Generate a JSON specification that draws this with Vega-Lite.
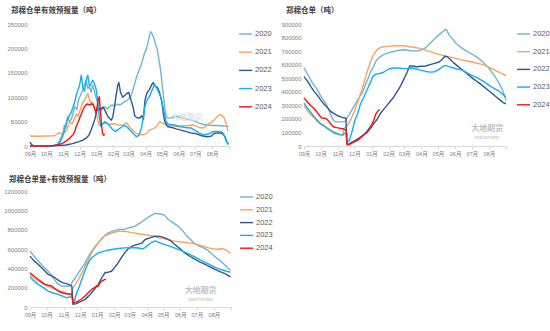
{
"$schema": "https://vega.github.io/schema/vega-lite/v6.json",
"background": "white",
"padding": {"left": 3, "top": 6, "right": 0, "bottom": 0},
"datasets": {
"a": [
{"s":"2020","d":0,"v":0},{"s":"2020","d":20,"v":0},{"s":"2020","d":40,"v":0},{"s":"2020","d":50,"v":3000},{"s":"2020","d":56,"v":15000},{"s":"2020","d":60,"v":25000},{"s":"2020","d":63,"v":42000},{"s":"2020","d":66,"v":38000},{"s":"2020","d":69,"v":60000},{"s":"2020","d":72,"v":50000},{"s":"2020","d":76,"v":55000},{"s":"2020","d":79,"v":68000},{"s":"2020","d":82,"v":80000},{"s":"2020","d":86,"v":75000},{"s":"2020","d":89,"v":95000},{"s":"2020","d":91,"v":100000},{"s":"2020","d":94,"v":108000},{"s":"2020","d":97,"v":115000},{"s":"2020","d":100,"v":125000},{"s":"2020","d":103,"v":135000},{"s":"2020","d":106,"v":118000},{"s":"2020","d":109,"v":121000},{"s":"2020","d":112,"v":110000},{"s":"2020","d":115,"v":125000},{"s":"2020","d":118,"v":112000},{"s":"2020","d":121,"v":100000},{"s":"2020","d":124,"v":88000},{"s":"2020","d":127,"v":74000},{"s":"2020","d":130,"v":72000},{"s":"2020","d":134,"v":78000},{"s":"2020","d":138,"v":80000},{"s":"2020","d":142,"v":76000},{"s":"2020","d":146,"v":80000},{"s":"2020","d":150,"v":84000},{"s":"2020","d":155,"v":82000},{"s":"2020","d":160,"v":86000},{"s":"2020","d":165,"v":84000},{"s":"2020","d":170,"v":88000},{"s":"2020","d":175,"v":92000},{"s":"2020","d":180,"v":95000},{"s":"2020","d":185,"v":102000},{"s":"2020","d":190,"v":120000},{"s":"2020","d":195,"v":140000},{"s":"2020","d":200,"v":155000},{"s":"2020","d":205,"v":170000},{"s":"2020","d":210,"v":190000},{"s":"2020","d":214,"v":200000},{"s":"2020","d":218,"v":220000},{"s":"2020","d":221,"v":234000},{"s":"2020","d":224,"v":230000},{"s":"2020","d":227,"v":222000},{"s":"2020","d":230,"v":210000},{"s":"2020","d":233,"v":200000},{"s":"2020","d":236,"v":180000},{"s":"2020","d":239,"v":160000},{"s":"2020","d":242,"v":130000},{"s":"2020","d":245,"v":101000},{"s":"2020","d":248,"v":70000},{"s":"2020","d":251,"v":58000},{"s":"2020","d":256,"v":57000},{"s":"2020","d":261,"v":58000},{"s":"2020","d":266,"v":61000},{"s":"2020","d":272,"v":60000},{"s":"2020","d":278,"v":57000},{"s":"2020","d":285,"v":56000},{"s":"2020","d":292,"v":54000},{"s":"2020","d":300,"v":52000},{"s":"2020","d":310,"v":47000},{"s":"2020","d":318,"v":44000},{"s":"2020","d":325,"v":43000},{"s":"2020","d":335,"v":42000},{"s":"2020","d":345,"v":42000},{"s":"2020","d":355,"v":41000},{"s":"2020","d":364,"v":40000},
{"s":"2021","d":0,"v":20500},{"s":"2021","d":15,"v":20000},{"s":"2021","d":30,"v":20500},{"s":"2021","d":45,"v":21000},{"s":"2021","d":53,"v":27000},{"s":"2021","d":60,"v":25000},{"s":"2021","d":66,"v":30000},{"s":"2021","d":70,"v":40000},{"s":"2021","d":73,"v":50000},{"s":"2021","d":77,"v":45000},{"s":"2021","d":81,"v":55000},{"s":"2021","d":85,"v":65000},{"s":"2021","d":88,"v":60000},{"s":"2021","d":91,"v":70000},{"s":"2021","d":94,"v":80000},{"s":"2021","d":97,"v":90000},{"s":"2021","d":100,"v":94000},{"s":"2021","d":103,"v":100000},{"s":"2021","d":106,"v":108000},{"s":"2021","d":109,"v":95000},{"s":"2021","d":112,"v":87000},{"s":"2021","d":115,"v":90000},{"s":"2021","d":118,"v":80000},{"s":"2021","d":121,"v":70000},{"s":"2021","d":124,"v":55000},{"s":"2021","d":127,"v":42000},{"s":"2021","d":131,"v":45000},{"s":"2021","d":136,"v":47000},{"s":"2021","d":142,"v":46000},{"s":"2021","d":148,"v":44000},{"s":"2021","d":155,"v":46000},{"s":"2021","d":162,"v":43000},{"s":"2021","d":170,"v":42000},{"s":"2021","d":177,"v":48000},{"s":"2021","d":183,"v":38000},{"s":"2021","d":189,"v":32000},{"s":"2021","d":195,"v":26000},{"s":"2021","d":202,"v":24000},{"s":"2021","d":208,"v":23000},{"s":"2021","d":214,"v":26000},{"s":"2021","d":219,"v":33000},{"s":"2021","d":226,"v":35000},{"s":"2021","d":232,"v":40000},{"s":"2021","d":238,"v":50000},{"s":"2021","d":244,"v":46000},{"s":"2021","d":251,"v":43000},{"s":"2021","d":260,"v":42000},{"s":"2021","d":269,"v":40000},{"s":"2021","d":280,"v":41000},{"s":"2021","d":290,"v":42000},{"s":"2021","d":300,"v":43000},{"s":"2021","d":310,"v":38000},{"s":"2021","d":318,"v":37000},{"s":"2021","d":325,"v":42000},{"s":"2021","d":330,"v":47000},{"s":"2021","d":337,"v":52000},{"s":"2021","d":343,"v":60000},{"s":"2021","d":348,"v":64000},{"s":"2021","d":352,"v":63000},{"s":"2021","d":356,"v":58000},{"s":"2021","d":360,"v":45000},{"s":"2021","d":363,"v":30000},
{"s":"2022","d":0,"v":8000},{"s":"2022","d":3,"v":3000},{"s":"2022","d":8,"v":0},{"s":"2022","d":30,"v":0},{"s":"2022","d":50,"v":1000},{"s":"2022","d":66,"v":2000},{"s":"2022","d":78,"v":5000},{"s":"2022","d":90,"v":9000},{"s":"2022","d":97,"v":12000},{"s":"2022","d":103,"v":16000},{"s":"2022","d":108,"v":22000},{"s":"2022","d":112,"v":33000},{"s":"2022","d":116,"v":45000},{"s":"2022","d":119,"v":55000},{"s":"2022","d":122,"v":70000},{"s":"2022","d":125,"v":78000},{"s":"2022","d":129,"v":75000},{"s":"2022","d":134,"v":80000},{"s":"2022","d":138,"v":72000},{"s":"2022","d":143,"v":60000},{"s":"2022","d":149,"v":53000},{"s":"2022","d":152,"v":60000},{"s":"2022","d":155,"v":80000},{"s":"2022","d":158,"v":105000},{"s":"2022","d":161,"v":125000},{"s":"2022","d":163,"v":130000},{"s":"2022","d":166,"v":110000},{"s":"2022","d":170,"v":100000},{"s":"2022","d":174,"v":104000},{"s":"2022","d":178,"v":108000},{"s":"2022","d":181,"v":110000},{"s":"2022","d":185,"v":95000},{"s":"2022","d":189,"v":80000},{"s":"2022","d":192,"v":62000},{"s":"2022","d":196,"v":58000},{"s":"2022","d":201,"v":57000},{"s":"2022","d":205,"v":62000},{"s":"2022","d":208,"v":55000},{"s":"2022","d":211,"v":95000},{"s":"2022","d":215,"v":110000},{"s":"2022","d":219,"v":115000},{"s":"2022","d":223,"v":125000},{"s":"2022","d":226,"v":130000},{"s":"2022","d":230,"v":122000},{"s":"2022","d":234,"v":120000},{"s":"2022","d":238,"v":108000},{"s":"2022","d":242,"v":90000},{"s":"2022","d":245,"v":62000},{"s":"2022","d":248,"v":48000},{"s":"2022","d":252,"v":40000},{"s":"2022","d":260,"v":38000},{"s":"2022","d":268,"v":35000},{"s":"2022","d":275,"v":33000},{"s":"2022","d":285,"v":30000},{"s":"2022","d":295,"v":27000},{"s":"2022","d":305,"v":25000},{"s":"2022","d":315,"v":21000},{"s":"2022","d":325,"v":19000},{"s":"2022","d":332,"v":20000},{"s":"2022","d":338,"v":26000},{"s":"2022","d":345,"v":27000},{"s":"2022","d":352,"v":26000},{"s":"2022","d":357,"v":20000},{"s":"2022","d":361,"v":8000},{"s":"2022","d":364,"v":4000},
{"s":"2023","d":0,"v":0},{"s":"2023","d":40,"v":0},{"s":"2023","d":50,"v":2000},{"s":"2023","d":55,"v":8000},{"s":"2023","d":60,"v":20000},{"s":"2023","d":63,"v":30000},{"s":"2023","d":66,"v":45000},{"s":"2023","d":69,"v":55000},{"s":"2023","d":72,"v":62000},{"s":"2023","d":76,"v":70000},{"s":"2023","d":79,"v":80000},{"s":"2023","d":82,"v":90000},{"s":"2023","d":85,"v":105000},{"s":"2023","d":88,"v":115000},{"s":"2023","d":91,"v":125000},{"s":"2023","d":94,"v":145000},{"s":"2023","d":97,"v":120000},{"s":"2023","d":100,"v":112000},{"s":"2023","d":103,"v":135000},{"s":"2023","d":106,"v":145000},{"s":"2023","d":109,"v":122000},{"s":"2023","d":112,"v":128000},{"s":"2023","d":115,"v":135000},{"s":"2023","d":118,"v":128000},{"s":"2023","d":121,"v":118000},{"s":"2023","d":124,"v":95000},{"s":"2023","d":127,"v":60000},{"s":"2023","d":130,"v":40000},{"s":"2023","d":133,"v":45000},{"s":"2023","d":137,"v":50000},{"s":"2023","d":142,"v":46000},{"s":"2023","d":147,"v":40000},{"s":"2023","d":152,"v":33000},{"s":"2023","d":157,"v":30000},{"s":"2023","d":162,"v":34000},{"s":"2023","d":167,"v":38000},{"s":"2023","d":172,"v":42000},{"s":"2023","d":177,"v":40000},{"s":"2023","d":183,"v":33000},{"s":"2023","d":189,"v":26000},{"s":"2023","d":195,"v":19000},{"s":"2023","d":200,"v":22000},{"s":"2023","d":205,"v":40000},{"s":"2023","d":208,"v":60000},{"s":"2023","d":211,"v":82000},{"s":"2023","d":215,"v":95000},{"s":"2023","d":219,"v":101000},{"s":"2023","d":223,"v":112000},{"s":"2023","d":228,"v":125000},{"s":"2023","d":232,"v":120000},{"s":"2023","d":236,"v":110000},{"s":"2023","d":240,"v":100000},{"s":"2023","d":245,"v":74000},{"s":"2023","d":249,"v":52000},{"s":"2023","d":253,"v":45000},{"s":"2023","d":258,"v":44000},{"s":"2023","d":265,"v":43000},{"s":"2023","d":275,"v":40000},{"s":"2023","d":285,"v":38000},{"s":"2023","d":295,"v":37000},{"s":"2023","d":303,"v":32000},{"s":"2023","d":310,"v":27000},{"s":"2023","d":318,"v":23000},{"s":"2023","d":326,"v":24000},{"s":"2023","d":336,"v":30000},{"s":"2023","d":344,"v":30000},{"s":"2023","d":352,"v":29000},{"s":"2023","d":357,"v":20000},{"s":"2023","d":361,"v":8000},{"s":"2023","d":364,"v":3000},
{"s":"2024","d":0,"v":0},{"s":"2024","d":30,"v":0},{"s":"2024","d":45,"v":1000},{"s":"2024","d":53,"v":3000},{"s":"2024","d":60,"v":6000},{"s":"2024","d":66,"v":10000},{"s":"2024","d":72,"v":15000},{"s":"2024","d":76,"v":20000},{"s":"2024","d":79,"v":23000},{"s":"2024","d":82,"v":30000},{"s":"2024","d":85,"v":40000},{"s":"2024","d":88,"v":48000},{"s":"2024","d":91,"v":57000},{"s":"2024","d":94,"v":65000},{"s":"2024","d":97,"v":74000},{"s":"2024","d":100,"v":80000},{"s":"2024","d":103,"v":85000},{"s":"2024","d":106,"v":86000},{"s":"2024","d":109,"v":84000},{"s":"2024","d":112,"v":86000},{"s":"2024","d":116,"v":85000},{"s":"2024","d":119,"v":75000},{"s":"2024","d":121,"v":68000},{"s":"2024","d":123,"v":80000},{"s":"2024","d":125,"v":95000},{"s":"2024","d":127,"v":101000},{"s":"2024","d":129,"v":75000},{"s":"2024","d":131,"v":45000},{"s":"2024","d":133,"v":26000},{"s":"2024","d":135,"v":22000},{"s":"2024","d":137,"v":25000}
],
"b": [
{"s":"2020","d":0,"v":578000},{"s":"2020","d":5,"v":540000},{"s":"2020","d":10,"v":505000},{"s":"2020","d":15,"v":465000},{"s":"2020","d":20,"v":440000},{"s":"2020","d":25,"v":410000},{"s":"2020","d":30,"v":370000},{"s":"2020","d":35,"v":340000},{"s":"2020","d":40,"v":310000},{"s":"2020","d":45,"v":265000},{"s":"2020","d":50,"v":215000},{"s":"2020","d":54,"v":185000},{"s":"2020","d":58,"v":178000},{"s":"2020","d":64,"v":178000},{"s":"2020","d":69,"v":178000},{"s":"2020","d":74,"v":180000},{"s":"2020","d":77,"v":205000},{"s":"2020","d":80,"v":220000},{"s":"2020","d":85,"v":255000},{"s":"2020","d":90,"v":290000},{"s":"2020","d":95,"v":325000},{"s":"2020","d":100,"v":360000},{"s":"2020","d":105,"v":390000},{"s":"2020","d":110,"v":440000},{"s":"2020","d":115,"v":490000},{"s":"2020","d":120,"v":545000},{"s":"2020","d":125,"v":580000},{"s":"2020","d":130,"v":625000},{"s":"2020","d":135,"v":650000},{"s":"2020","d":142,"v":670000},{"s":"2020","d":150,"v":685000},{"s":"2020","d":160,"v":695000},{"s":"2020","d":170,"v":705000},{"s":"2020","d":180,"v":710000},{"s":"2020","d":190,"v":705000},{"s":"2020","d":200,"v":700000},{"s":"2020","d":210,"v":705000},{"s":"2020","d":218,"v":720000},{"s":"2020","d":226,"v":750000},{"s":"2020","d":232,"v":775000},{"s":"2020","d":238,"v":800000},{"s":"2020","d":244,"v":820000},{"s":"2020","d":250,"v":840000},{"s":"2020","d":255,"v":860000},{"s":"2020","d":258,"v":855000},{"s":"2020","d":262,"v":820000},{"s":"2020","d":268,"v":790000},{"s":"2020","d":274,"v":760000},{"s":"2020","d":280,"v":740000},{"s":"2020","d":286,"v":720000},{"s":"2020","d":292,"v":705000},{"s":"2020","d":298,"v":690000},{"s":"2020","d":305,"v":675000},{"s":"2020","d":311,"v":660000},{"s":"2020","d":317,"v":640000},{"s":"2020","d":323,"v":620000},{"s":"2020","d":329,"v":595000},{"s":"2020","d":335,"v":570000},{"s":"2020","d":341,"v":535000},{"s":"2020","d":347,"v":500000},{"s":"2020","d":353,"v":460000},{"s":"2020","d":359,"v":410000},{"s":"2020","d":365,"v":340000},
{"s":"2021","d":0,"v":300000},{"s":"2021","d":6,"v":260000},{"s":"2021","d":12,"v":230000},{"s":"2021","d":18,"v":210000},{"s":"2021","d":24,"v":180000},{"s":"2021","d":30,"v":160000},{"s":"2021","d":36,"v":150000},{"s":"2021","d":42,"v":130000},{"s":"2021","d":48,"v":115000},{"s":"2021","d":54,"v":105000},{"s":"2021","d":60,"v":95000},{"s":"2021","d":66,"v":85000},{"s":"2021","d":70,"v":80000},{"s":"2021","d":72,"v":130000},{"s":"2021","d":76,"v":140000},{"s":"2021","d":80,"v":160000},{"s":"2021","d":85,"v":200000},{"s":"2021","d":90,"v":245000},{"s":"2021","d":95,"v":300000},{"s":"2021","d":100,"v":360000},{"s":"2021","d":105,"v":420000},{"s":"2021","d":110,"v":490000},{"s":"2021","d":115,"v":560000},{"s":"2021","d":120,"v":620000},{"s":"2021","d":125,"v":670000},{"s":"2021","d":130,"v":700000},{"s":"2021","d":135,"v":720000},{"s":"2021","d":140,"v":730000},{"s":"2021","d":150,"v":735000},{"s":"2021","d":165,"v":740000},{"s":"2021","d":180,"v":740000},{"s":"2021","d":195,"v":730000},{"s":"2021","d":210,"v":720000},{"s":"2021","d":225,"v":700000},{"s":"2021","d":240,"v":680000},{"s":"2021","d":255,"v":665000},{"s":"2021","d":270,"v":650000},{"s":"2021","d":285,"v":635000},{"s":"2021","d":298,"v":625000},{"s":"2021","d":311,"v":612000},{"s":"2021","d":323,"v":600000},{"s":"2021","d":335,"v":580000},{"s":"2021","d":347,"v":555000},{"s":"2021","d":357,"v":535000},{"s":"2021","d":365,"v":520000},
{"s":"2022","d":0,"v":512000},{"s":"2022","d":6,"v":480000},{"s":"2022","d":12,"v":440000},{"s":"2022","d":18,"v":405000},{"s":"2022","d":24,"v":375000},{"s":"2022","d":30,"v":340000},{"s":"2022","d":36,"v":310000},{"s":"2022","d":42,"v":285000},{"s":"2022","d":48,"v":255000},{"s":"2022","d":54,"v":240000},{"s":"2022","d":60,"v":225000},{"s":"2022","d":66,"v":215000},{"s":"2022","d":72,"v":208000},{"s":"2022","d":76,"v":204000},{"s":"2022","d":77,"v":20000},{"s":"2022","d":80,"v":10000},{"s":"2022","d":85,"v":25000},{"s":"2022","d":92,"v":40000},{"s":"2022","d":100,"v":60000},{"s":"2022","d":107,"v":80000},{"s":"2022","d":114,"v":100000},{"s":"2022","d":120,"v":130000},{"s":"2022","d":126,"v":165000},{"s":"2022","d":132,"v":195000},{"s":"2022","d":138,"v":240000},{"s":"2022","d":144,"v":270000},{"s":"2022","d":150,"v":300000},{"s":"2022","d":156,"v":330000},{"s":"2022","d":162,"v":360000},{"s":"2022","d":168,"v":400000},{"s":"2022","d":174,"v":440000},{"s":"2022","d":180,"v":490000},{"s":"2022","d":186,"v":540000},{"s":"2022","d":191,"v":590000},{"s":"2022","d":196,"v":590000},{"s":"2022","d":204,"v":585000},{"s":"2022","d":212,"v":588000},{"s":"2022","d":220,"v":590000},{"s":"2022","d":228,"v":600000},{"s":"2022","d":236,"v":610000},{"s":"2022","d":244,"v":620000},{"s":"2022","d":250,"v":640000},{"s":"2022","d":254,"v":660000},{"s":"2022","d":258,"v":660000},{"s":"2022","d":264,"v":640000},{"s":"2022","d":270,"v":615000},{"s":"2022","d":276,"v":595000},{"s":"2022","d":282,"v":575000},{"s":"2022","d":288,"v":555000},{"s":"2022","d":294,"v":535000},{"s":"2022","d":300,"v":515000},{"s":"2022","d":306,"v":495000},{"s":"2022","d":312,"v":478000},{"s":"2022","d":318,"v":460000},{"s":"2022","d":324,"v":440000},{"s":"2022","d":330,"v":420000},{"s":"2022","d":336,"v":400000},{"s":"2022","d":342,"v":380000},{"s":"2022","d":348,"v":360000},{"s":"2022","d":354,"v":340000},{"s":"2022","d":360,"v":320000},{"s":"2022","d":365,"v":310000},
{"s":"2023","d":0,"v":317000},{"s":"2023","d":6,"v":280000},{"s":"2023","d":12,"v":250000},{"s":"2023","d":18,"v":216000},{"s":"2023","d":24,"v":190000},{"s":"2023","d":30,"v":165000},{"s":"2023","d":36,"v":150000},{"s":"2023","d":42,"v":130000},{"s":"2023","d":48,"v":115000},{"s":"2023","d":54,"v":96000},{"s":"2023","d":60,"v":90000},{"s":"2023","d":66,"v":82000},{"s":"2023","d":70,"v":80000},{"s":"2023","d":73,"v":95000},{"s":"2023","d":76,"v":85000},{"s":"2023","d":78,"v":30000},{"s":"2023","d":82,"v":40000},{"s":"2023","d":87,"v":110000},{"s":"2023","d":92,"v":190000},{"s":"2023","d":97,"v":240000},{"s":"2023","d":102,"v":310000},{"s":"2023","d":108,"v":360000},{"s":"2023","d":114,"v":415000},{"s":"2023","d":119,"v":460000},{"s":"2023","d":124,"v":510000},{"s":"2023","d":130,"v":530000},{"s":"2023","d":136,"v":535000},{"s":"2023","d":142,"v":540000},{"s":"2023","d":148,"v":555000},{"s":"2023","d":154,"v":570000},{"s":"2023","d":162,"v":575000},{"s":"2023","d":170,"v":575000},{"s":"2023","d":178,"v":572000},{"s":"2023","d":186,"v":570000},{"s":"2023","d":194,"v":575000},{"s":"2023","d":202,"v":570000},{"s":"2023","d":210,"v":560000},{"s":"2023","d":220,"v":550000},{"s":"2023","d":228,"v":545000},{"s":"2023","d":236,"v":548000},{"s":"2023","d":244,"v":565000},{"s":"2023","d":250,"v":585000},{"s":"2023","d":256,"v":595000},{"s":"2023","d":262,"v":585000},{"s":"2023","d":268,"v":578000},{"s":"2023","d":276,"v":568000},{"s":"2023","d":286,"v":560000},{"s":"2023","d":295,"v":540000},{"s":"2023","d":304,"v":520000},{"s":"2023","d":314,"v":500000},{"s":"2023","d":323,"v":480000},{"s":"2023","d":332,"v":455000},{"s":"2023","d":341,"v":430000},{"s":"2023","d":350,"v":410000},{"s":"2023","d":358,"v":385000},{"s":"2023","d":365,"v":360000},
{"s":"2024","d":0,"v":355000},{"s":"2024","d":5,"v":330000},{"s":"2024","d":11,"v":302000},{"s":"2024","d":17,"v":280000},{"s":"2024","d":23,"v":253000},{"s":"2024","d":28,"v":225000},{"s":"2024","d":32,"v":206000},{"s":"2024","d":37,"v":205000},{"s":"2024","d":41,"v":200000},{"s":"2024","d":47,"v":170000},{"s":"2024","d":53,"v":142000},{"s":"2024","d":59,"v":136000},{"s":"2024","d":66,"v":130000},{"s":"2024","d":72,"v":125000},{"s":"2024","d":75,"v":116000},{"s":"2024","d":77,"v":100000},{"s":"2024","d":78,"v":8000},{"s":"2024","d":84,"v":15000},{"s":"2024","d":90,"v":28000},{"s":"2024","d":96,"v":39000},{"s":"2024","d":102,"v":60000},{"s":"2024","d":108,"v":81000},{"s":"2024","d":114,"v":110000},{"s":"2024","d":120,"v":142000},{"s":"2024","d":124,"v":170000},{"s":"2024","d":127,"v":200000},{"s":"2024","d":129,"v":229000},{"s":"2024","d":132,"v":250000},{"s":"2024","d":135,"v":265000},{"s":"2024","d":137,"v":262000}
],
"c": [
{"s":"2020","d":0,"v":578000},{"s":"2020","d":7,"v":530000},{"s":"2020","d":15,"v":475000},{"s":"2020","d":24,"v":420000},{"s":"2020","d":33,"v":371000},{"s":"2020","d":40,"v":320000},{"s":"2020","d":48,"v":255000},{"s":"2020","d":54,"v":225000},{"s":"2020","d":57,"v":217000},{"s":"2020","d":64,"v":215000},{"s":"2020","d":70,"v":215000},{"s":"2020","d":74,"v":225000},{"s":"2020","d":76,"v":251000},{"s":"2020","d":82,"v":300000},{"s":"2020","d":88,"v":354000},{"s":"2020","d":94,"v":405000},{"s":"2020","d":100,"v":457000},{"s":"2020","d":106,"v":520000},{"s":"2020","d":112,"v":578000},{"s":"2020","d":118,"v":625000},{"s":"2020","d":124,"v":664000},{"s":"2020","d":130,"v":700000},{"s":"2020","d":136,"v":740000},{"s":"2020","d":142,"v":767000},{"s":"2020","d":150,"v":785000},{"s":"2020","d":160,"v":801000},{"s":"2020","d":172,"v":805000},{"s":"2020","d":181,"v":820000},{"s":"2020","d":191,"v":836000},{"s":"2020","d":200,"v":870000},{"s":"2020","d":209,"v":905000},{"s":"2020","d":218,"v":940000},{"s":"2020","d":227,"v":968000},{"s":"2020","d":233,"v":965000},{"s":"2020","d":239,"v":960000},{"s":"2020","d":245,"v":945000},{"s":"2020","d":251,"v":905000},{"s":"2020","d":260,"v":870000},{"s":"2020","d":269,"v":836000},{"s":"2020","d":277,"v":790000},{"s":"2020","d":285,"v":733000},{"s":"2020","d":293,"v":690000},{"s":"2020","d":300,"v":650000},{"s":"2020","d":307,"v":630000},{"s":"2020","d":315,"v":612000},{"s":"2020","d":322,"v":590000},{"s":"2020","d":330,"v":550000},{"s":"2020","d":337,"v":515000},{"s":"2020","d":345,"v":480000},{"s":"2020","d":354,"v":435000},{"s":"2020","d":364,"v":380000},
{"s":"2021","d":0,"v":337000},{"s":"2021","d":7,"v":300000},{"s":"2021","d":15,"v":268000},{"s":"2021","d":24,"v":240000},{"s":"2021","d":33,"v":217000},{"s":"2021","d":40,"v":195000},{"s":"2021","d":48,"v":182000},{"s":"2021","d":56,"v":165000},{"s":"2021","d":64,"v":148000},{"s":"2021","d":70,"v":138000},{"s":"2021","d":75,"v":130000},{"s":"2021","d":77,"v":182000},{"s":"2021","d":82,"v":230000},{"s":"2021","d":88,"v":285000},{"s":"2021","d":94,"v":350000},{"s":"2021","d":100,"v":423000},{"s":"2021","d":106,"v":490000},{"s":"2021","d":112,"v":560000},{"s":"2021","d":118,"v":615000},{"s":"2021","d":124,"v":664000},{"s":"2021","d":130,"v":710000},{"s":"2021","d":136,"v":735000},{"s":"2021","d":142,"v":750000},{"s":"2021","d":151,"v":770000},{"s":"2021","d":160,"v":784000},{"s":"2021","d":172,"v":784000},{"s":"2021","d":185,"v":770000},{"s":"2021","d":197,"v":758000},{"s":"2021","d":210,"v":748000},{"s":"2021","d":222,"v":735000},{"s":"2021","d":233,"v":715000},{"s":"2021","d":245,"v":705000},{"s":"2021","d":255,"v":690000},{"s":"2021","d":263,"v":681000},{"s":"2021","d":275,"v":672000},{"s":"2021","d":285,"v":668000},{"s":"2021","d":294,"v":660000},{"s":"2021","d":305,"v":645000},{"s":"2021","d":315,"v":628000},{"s":"2021","d":324,"v":612000},{"s":"2021","d":333,"v":600000},{"s":"2021","d":342,"v":598000},{"s":"2021","d":350,"v":605000},{"s":"2021","d":356,"v":590000},{"s":"2021","d":364,"v":555000},
{"s":"2022","d":0,"v":526000},{"s":"2022","d":7,"v":480000},{"s":"2022","d":15,"v":440000},{"s":"2022","d":24,"v":390000},{"s":"2022","d":33,"v":337000},{"s":"2022","d":40,"v":320000},{"s":"2022","d":45,"v":303000},{"s":"2022","d":54,"v":268000},{"s":"2022","d":60,"v":250000},{"s":"2022","d":64,"v":244000},{"s":"2022","d":70,"v":234000},{"s":"2022","d":76,"v":217000},{"s":"2022","d":78,"v":28000},{"s":"2022","d":84,"v":35000},{"s":"2022","d":90,"v":50000},{"s":"2022","d":100,"v":79000},{"s":"2022","d":106,"v":110000},{"s":"2022","d":112,"v":148000},{"s":"2022","d":118,"v":190000},{"s":"2022","d":124,"v":234000},{"s":"2022","d":130,"v":300000},{"s":"2022","d":136,"v":354000},{"s":"2022","d":142,"v":360000},{"s":"2022","d":148,"v":370000},{"s":"2022","d":154,"v":410000},{"s":"2022","d":160,"v":457000},{"s":"2022","d":166,"v":510000},{"s":"2022","d":172,"v":560000},{"s":"2022","d":178,"v":600000},{"s":"2022","d":185,"v":629000},{"s":"2022","d":191,"v":640000},{"s":"2022","d":197,"v":650000},{"s":"2022","d":203,"v":660000},{"s":"2022","d":209,"v":698000},{"s":"2022","d":218,"v":715000},{"s":"2022","d":227,"v":733000},{"s":"2022","d":236,"v":730000},{"s":"2022","d":245,"v":715000},{"s":"2022","d":254,"v":690000},{"s":"2022","d":263,"v":647000},{"s":"2022","d":272,"v":605000},{"s":"2022","d":281,"v":560000},{"s":"2022","d":290,"v":525000},{"s":"2022","d":300,"v":492000},{"s":"2022","d":309,"v":465000},{"s":"2022","d":318,"v":440000},{"s":"2022","d":327,"v":415000},{"s":"2022","d":336,"v":389000},{"s":"2022","d":345,"v":365000},{"s":"2022","d":354,"v":345000},{"s":"2022","d":364,"v":312000},
{"s":"2023","d":0,"v":313000},{"s":"2023","d":7,"v":270000},{"s":"2023","d":15,"v":234000},{"s":"2023","d":24,"v":200000},{"s":"2023","d":33,"v":165000},{"s":"2023","d":42,"v":145000},{"s":"2023","d":51,"v":131000},{"s":"2023","d":58,"v":115000},{"s":"2023","d":66,"v":96000},{"s":"2023","d":72,"v":105000},{"s":"2023","d":75,"v":113000},{"s":"2023","d":78,"v":55000},{"s":"2023","d":81,"v":70000},{"s":"2023","d":85,"v":148000},{"s":"2023","d":90,"v":220000},{"s":"2023","d":94,"v":285000},{"s":"2023","d":99,"v":360000},{"s":"2023","d":103,"v":423000},{"s":"2023","d":108,"v":480000},{"s":"2023","d":112,"v":509000},{"s":"2023","d":118,"v":535000},{"s":"2023","d":124,"v":560000},{"s":"2023","d":136,"v":580000},{"s":"2023","d":148,"v":595000},{"s":"2023","d":160,"v":605000},{"s":"2023","d":172,"v":612000},{"s":"2023","d":185,"v":615000},{"s":"2023","d":197,"v":610000},{"s":"2023","d":205,"v":600000},{"s":"2023","d":212,"v":630000},{"s":"2023","d":220,"v":665000},{"s":"2023","d":227,"v":685000},{"s":"2023","d":233,"v":670000},{"s":"2023","d":242,"v":650000},{"s":"2023","d":251,"v":635000},{"s":"2023","d":263,"v":610000},{"s":"2023","d":276,"v":580000},{"s":"2023","d":288,"v":550000},{"s":"2023","d":300,"v":515000},{"s":"2023","d":312,"v":480000},{"s":"2023","d":324,"v":445000},{"s":"2023","d":336,"v":410000},{"s":"2023","d":348,"v":385000},{"s":"2023","d":356,"v":372000},{"s":"2023","d":364,"v":360000},
{"s":"2024","d":0,"v":354000},{"s":"2024","d":7,"v":320000},{"s":"2024","d":15,"v":285000},{"s":"2024","d":21,"v":260000},{"s":"2024","d":27,"v":234000},{"s":"2024","d":33,"v":225000},{"s":"2024","d":39,"v":217000},{"s":"2024","d":45,"v":190000},{"s":"2024","d":51,"v":165000},{"s":"2024","d":57,"v":150000},{"s":"2024","d":64,"v":140000},{"s":"2024","d":70,"v":135000},{"s":"2024","d":75,"v":130000},{"s":"2024","d":77,"v":115000},{"s":"2024","d":78,"v":45000},{"s":"2024","d":83,"v":50000},{"s":"2024","d":88,"v":62000},{"s":"2024","d":94,"v":85000},{"s":"2024","d":100,"v":113000},{"s":"2024","d":106,"v":150000},{"s":"2024","d":112,"v":182000},{"s":"2024","d":117,"v":200000},{"s":"2024","d":121,"v":217000},{"s":"2024","d":124,"v":215000},{"s":"2024","d":127,"v":251000},{"s":"2024","d":131,"v":270000},{"s":"2024","d":136,"v":285000},{"s":"2024","d":138,"v":283000}
]
},
"columns": 2,
"spacing": {"row": 45, "column": 73},
"bounds": "flush",
"concat": [
{
"title": {"text": "郑棉仓单有效预报量（吨）", "dx": -19, "offset": 7},
"width": 199, "height": 122,
"layer": [
{"data": {"name": "a"}, "mark": {"type": "line", "strokeJoin": "round", "zindex": 2},
"encoding": {
"x": {"field": "d", "type": "quantitative", "scale": {"domain": [0, 365], "nice": false, "zero": false},
 "axis": {"values": [0, 30, 61, 91, 122, 153, 181, 212, 242, 273, 303, 334, 365], "labelOverlap": false, "labelExpr": "datum.value >= 365 ? '' : timeFormat(datetime(2020, 8, 1 + datum.value), '%m月')", "title": null}},
"y": {"field": "v", "type": "quantitative", "scale": {"domain": [0, 250000], "nice": false},
 "axis": {"values": [0, 50000, 100000, 150000, 200000, 250000], "labelOverlap": false, "format": "d", "title": null}},
"color": {"field": "s", "type": "nominal", "scale": {"domain": ["2020", "2021", "2022", "2023", "2024"], "range": ["#6fb6d1", "#f6a55f", "#2e5693", "#0fb0ef", "#f21414"]},
 "legend": {"title": null, "orient": "none", "legendX": 208, "legendY": 2.5, "rowPadding": 7.2}},
"strokeWidth": {"field": "s", "type": "nominal", "scale": {"domain": ["2020", "2021", "2022", "2023", "2024"], "range": [1.4, 1.4, 1.6, 1.4, 1.9]}, "legend": null}
}},
{"data": {"values": [{"t": "大地期货"}]}, "mark": {"type": "text", "fontSize": 8, "color": "#e3e3e3", "zindex": 1},
"encoding": {
"x": {"datum": 288, "type": "quantitative", "scale": {"domain": [0, 365], "nice": false, "zero": false},
 "axis": {"values": [0, 30, 61, 91, 122, 153, 181, 212, 242, 273, 303, 334, 365], "labelOverlap": false, "labelExpr": "datum.value >= 365 ? '' : timeFormat(datetime(2020, 8, 1 + datum.value), '%m月')", "title": null}},
"y": {"datum": 57000, "type": "quantitative", "scale": {"domain": [0, 250000], "nice": false},
 "axis": {"values": [0, 50000, 100000, 150000, 200000, 250000], "labelOverlap": false, "format": "d", "title": null}},
"text": {"field": "t"}}}
]
},
{
"title": {"text": "郑棉仓单（吨）", "dx": -18, "offset": 7},
"width": 202, "height": 122,
"layer": [
{"data": {"name": "b"}, "mark": {"type": "line", "strokeJoin": "round", "zindex": 2},
"encoding": {
"x": {"field": "d", "type": "quantitative", "scale": {"domain": [0, 365], "nice": false, "zero": false},
 "axis": {"values": [0, 30, 61, 91, 122, 153, 181, 212, 242, 273, 303, 334, 365], "labelOverlap": false, "labelExpr": "datum.value >= 365 ? '' : timeFormat(datetime(2020, 8, 1 + datum.value), '%m月')", "title": null}},
"y": {"field": "v", "type": "quantitative", "scale": {"domain": [0, 900000], "nice": false},
 "axis": {"values": [0, 100000, 200000, 300000, 400000, 500000, 600000, 700000, 800000, 900000], "labelOverlap": false, "format": "d", "title": null}},
"color": {"field": "s", "type": "nominal", "scale": {"domain": ["2020", "2021", "2022", "2023", "2024"], "range": ["#6fb6d1", "#f6a55f", "#2e5693", "#0fb0ef", "#f21414"]},
 "legend": {"title": null, "orient": "none", "legendX": 212, "legendY": 2.5, "rowPadding": 6.7}},
"strokeWidth": {"field": "s", "type": "nominal", "scale": {"domain": ["2020", "2021", "2022", "2023", "2024"], "range": [1.4, 1.4, 1.6, 1.4, 1.9]}, "legend": null}
}},
{"data": {"values": [{"t": "大地期货"}]}, "mark": {"type": "text", "fontSize": 8, "color": "#c2c2c2", "zindex": 1},
"encoding": {
"x": {"datum": 331, "type": "quantitative", "scale": {"domain": [0, 365], "nice": false, "zero": false},
 "axis": {"values": [0, 30, 61, 91, 122, 153, 181, 212, 242, 273, 303, 334, 365], "labelOverlap": false, "labelExpr": "datum.value >= 365 ? '' : timeFormat(datetime(2020, 8, 1 + datum.value), '%m月')", "title": null}},
"y": {"datum": 125000, "type": "quantitative", "scale": {"domain": [0, 900000], "nice": false},
 "axis": {"values": [0, 100000, 200000, 300000, 400000, 500000, 600000, 700000, 800000, 900000], "labelOverlap": false, "format": "d", "title": null}},
"text": {"field": "t"}}},
{"data": {"values": [{"t": "DADI FUTURES"}]}, "mark": {"type": "text", "fontSize": 3.4, "color": "#c8c8c8", "zindex": 1},
"encoding": {
"x": {"datum": 331, "type": "quantitative", "scale": {"domain": [0, 365], "nice": false, "zero": false},
 "axis": {"values": [0, 30, 61, 91, 122, 153, 181, 212, 242, 273, 303, 334, 365], "labelOverlap": false, "labelExpr": "datum.value >= 365 ? '' : timeFormat(datetime(2020, 8, 1 + datum.value), '%m月')", "title": null}},
"y": {"datum": 62000, "type": "quantitative", "scale": {"domain": [0, 900000], "nice": false},
 "axis": {"values": [0, 100000, 200000, 300000, 400000, 500000, 600000, 700000, 800000, 900000], "labelOverlap": false, "format": "d", "title": null}},
"text": {"field": "t"}}}
]
},
{
"title": {"text": "郑棉仓单量+有效预报量（吨）", "dx": -21, "offset": 5},
"width": 201, "height": 116,
"layer": [
{"data": {"name": "c"}, "mark": {"type": "line", "strokeJoin": "round", "zindex": 2},
"encoding": {
"x": {"field": "d", "type": "quantitative", "scale": {"domain": [0, 365], "nice": false, "zero": false},
 "axis": {"values": [0, 30, 61, 91, 122, 153, 181, 212, 242, 273, 303, 334, 365], "labelOverlap": false, "labelExpr": "datum.value >= 365 ? '' : timeFormat(datetime(2020, 8, 1 + datum.value), '%m月')", "title": null}},
"y": {"field": "v", "type": "quantitative", "scale": {"domain": [0, 1200000], "nice": false},
 "axis": {"values": [0, 200000, 400000, 600000, 800000, 1000000, 1200000], "labelOverlap": false, "format": "d", "title": null}},
"color": {"field": "s", "type": "nominal", "scale": {"domain": ["2020", "2021", "2022", "2023", "2024"], "range": ["#6fb6d1", "#f6a55f", "#2e5693", "#0fb0ef", "#f21414"]},
 "legend": {"title": null, "orient": "none", "legendX": 209, "legendY": -1.5, "rowPadding": 1.8}},
"strokeWidth": {"field": "s", "type": "nominal", "scale": {"domain": ["2020", "2021", "2022", "2023", "2024"], "range": [1.4, 1.4, 1.6, 1.4, 1.9]}, "legend": null}
}},
{"data": {"values": [{"t": "大地期货"}]}, "mark": {"type": "text", "fontSize": 8, "color": "#c2c2c2", "zindex": 1},
"encoding": {
"x": {"datum": 310, "type": "quantitative", "scale": {"domain": [0, 365], "nice": false, "zero": false},
 "axis": {"values": [0, 30, 61, 91, 122, 153, 181, 212, 242, 273, 303, 334, 365], "labelOverlap": false, "labelExpr": "datum.value >= 365 ? '' : timeFormat(datetime(2020, 8, 1 + datum.value), '%m月')", "title": null}},
"y": {"datum": 168000, "type": "quantitative", "scale": {"domain": [0, 1200000], "nice": false},
 "axis": {"values": [0, 200000, 400000, 600000, 800000, 1000000, 1200000], "labelOverlap": false, "format": "d", "title": null}},
"text": {"field": "t"}}},
{"data": {"values": [{"t": "DADI FUTURES"}]}, "mark": {"type": "text", "fontSize": 3.4, "color": "#c8c8c8", "zindex": 1},
"encoding": {
"x": {"datum": 310, "type": "quantitative", "scale": {"domain": [0, 365], "nice": false, "zero": false},
 "axis": {"values": [0, 30, 61, 91, 122, 153, 181, 212, 242, 273, 303, 334, 365], "labelOverlap": false, "labelExpr": "datum.value >= 365 ? '' : timeFormat(datetime(2020, 8, 1 + datum.value), '%m月')", "title": null}},
"y": {"datum": 70000, "type": "quantitative", "scale": {"domain": [0, 1200000], "nice": false},
 "axis": {"values": [0, 200000, 400000, 600000, 800000, 1000000, 1200000], "labelOverlap": false, "format": "d", "title": null}},
"text": {"field": "t"}}}
]
}
],
"resolve": {"scale": {"x": "independent", "y": "independent", "color": "independent", "strokeWidth": "independent"}, "legend": {"color": "independent"}},
"config": {
"font": "Liberation Sans, Noto Sans CJK SC",
"view": {"stroke": null},
"axis": {"grid": false, "labelColor": "#808080", "labelFont": "Liberation Sans, Noto Sans CJK SC", "labelOverlap": false},
"axisY": {"domain": false, "ticks": false, "labelFontSize": 6, "labelPadding": 3},
"axisX": {"domainColor": "#d9d9d9", "tickColor": "#d9d9d9", "tickSize": 3, "labelFontSize": 5.5, "labelPadding": 2, "labelFlush": false},
"title": {"anchor": "start", "fontSize": 7.5, "fontWeight": "bold", "color": "#404040", "font": "Noto Sans CJK SC", "frame": "group"},
"text": {"font": "Noto Sans CJK SC", "fontWeight": "bold"},
"legend": {"symbolType": "stroke", "symbolSize": 169, "symbolStrokeWidth": 2, "labelFontSize": 7.5, "labelColor": "#595959", "labelOffset": 2, "labelFont": "Liberation Sans"}
}
}
